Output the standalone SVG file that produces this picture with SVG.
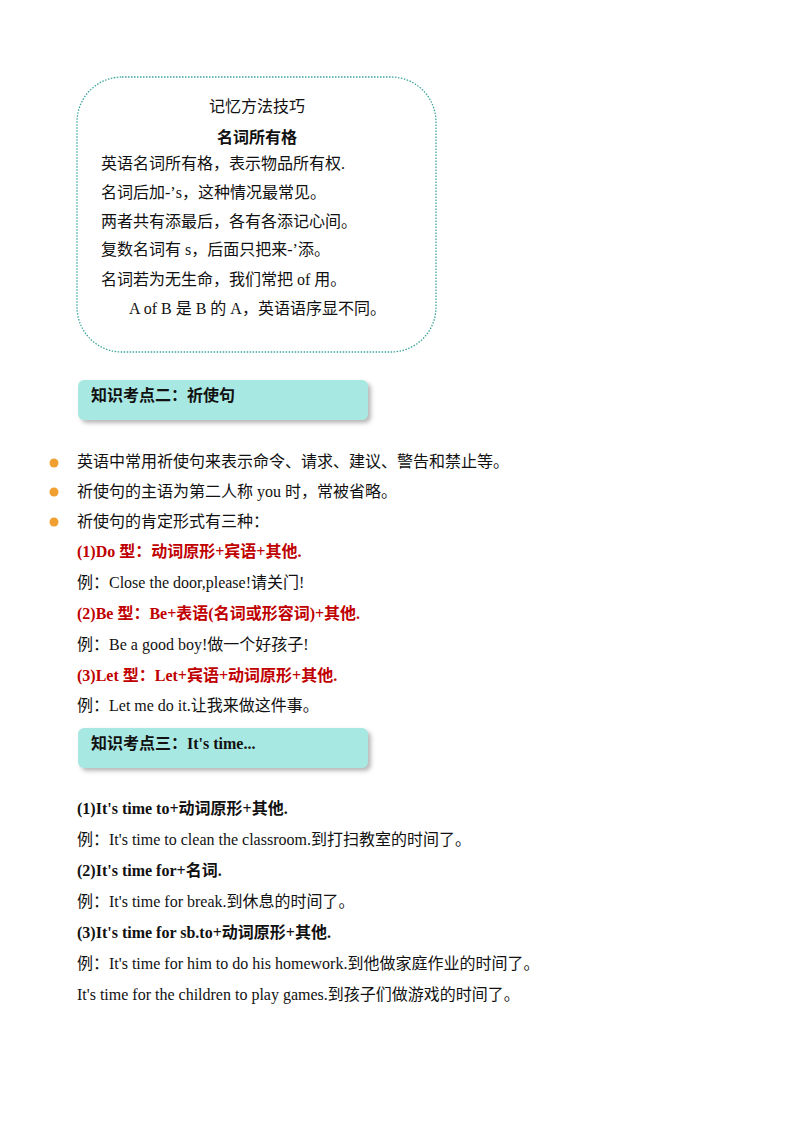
<svg xmlns="http://www.w3.org/2000/svg" width="800" height="1132" viewBox="0 0 800 1132">
<style>
text{font-family:"Liberation Serif","Noto Sans CJK SC",serif;font-size:16px;fill:#111}
.b{font-weight:bold}
.r{font-weight:bold;fill:#c00000}
.s{font-family:"Noto Sans CJK SC",sans-serif}
.tab{fill:#a8e8e2}
.bul{fill:#f0a030}
</style>
<defs>
<filter id="sh" x="-5%" y="-20%" width="115%" height="160%"><feDropShadow dx="3" dy="3" stdDeviation="2" flood-color="#888" flood-opacity="0.6"/></filter>
</defs>
<rect width="800" height="1132" fill="#fff"/>
<g id="memo">
<rect x="77" y="77" width="359" height="275" rx="45" fill="none" stroke="#3aa59a" stroke-width="1.3" stroke-dasharray="1.5 1.5"/>
<text x="257" y="112" text-anchor="middle" class="s" style="font-size:16px">记忆方法技巧</text>
<text x="257" y="143" text-anchor="middle" class="s b">名词所有格</text>
<text x="101" y="169">英语名词所有格，表示物品所有权.</text>
<text x="101" y="198">名词后加-’s，这种情况最常见。</text>
<text x="101" y="227">两者共有添最后，各有各添记心间。</text>
<text x="101" y="255">复数名词有 s，后面只把来-’添。</text>
<text x="101" y="285">名词若为无生命，我们常把 of 用。</text>
<text x="129" y="314">A of B 是 B 的 A，英语语序显不同。</text>
</g>
<g id="h2">
<rect class="tab" x="78" y="380" width="290" height="40" rx="6" filter="url(#sh)"/>
<text x="91" y="401" class="b">知识考点二：祈使句</text>
</g>
<g id="sec2">
<circle class="bul" cx="54" cy="463" r="4.5"/>
<circle class="bul" cx="54" cy="492" r="4.5"/>
<circle class="bul" cx="54" cy="522" r="4.5"/>
<text x="77" y="467">英语中常用祈使句来表示命令、请求、建议、警告和禁止等。</text>
<text x="77" y="497">祈使句的主语为第二人称 you 时，常被省略。</text>
<text x="77" y="527">祈使句的肯定形式有三种：</text>
<text x="77" y="557" class="r">(1)Do 型：动词原形+宾语+其他.</text>
<text x="77" y="588">例：Close the door,please!请关门!</text>
<text x="77" y="619" class="r">(2)Be 型：Be+表语(名词或形容词)+其他.</text>
<text x="77" y="650">例：Be a good boy!做一个好孩子!</text>
<text x="77" y="681" class="r">(3)Let 型：Let+宾语+动词原形+其他.</text>
<text x="77" y="711">例：Let me do it.让我来做这件事。</text>
</g>
<g id="h3">
<rect class="tab" x="78" y="728" width="290" height="40" rx="6" filter="url(#sh)"/>
<text x="91" y="749" class="b">知识考点三：It's time...</text>
</g>
<g id="sec3">
<text x="77" y="814" class="b">(1)It's time to+动词原形+其他.</text>
<text x="77" y="845">例：It's time to clean the classroom.到打扫教室的时间了。</text>
<text x="77" y="876" class="b">(2)It's time for+名词.</text>
<text x="77" y="907">例：It's time for break.到休息的时间了。</text>
<text x="77" y="938" class="b">(3)It's time for sb.to+动词原形+其他.</text>
<text x="77" y="969">例：It's time for him to do his homework.到他做家庭作业的时间了。</text>
<text x="77" y="1000">It's time for the children to play games.到孩子们做游戏的时间了。</text>
</g>
<g id="connectors"/>
</svg>
